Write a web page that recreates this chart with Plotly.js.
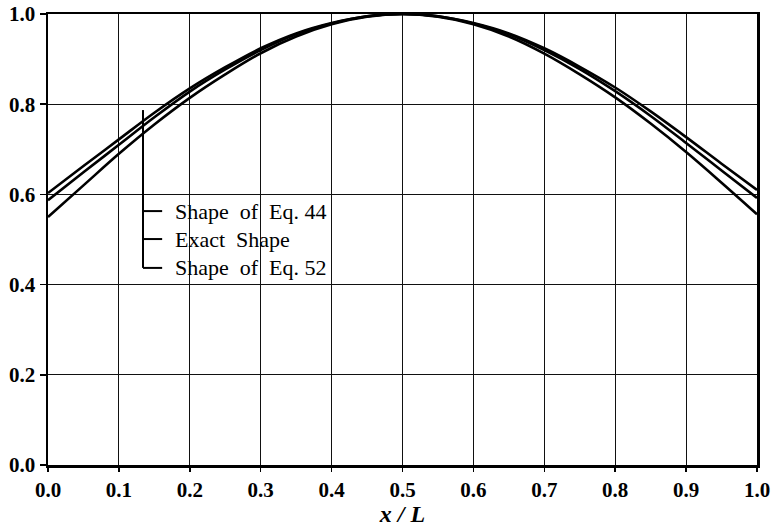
<!DOCTYPE html>
<html>
<head>
<meta charset="utf-8">
<script src="https://cdn.plot.ly/plotly-3.0.1.min.js"></script>
<style>
  html, body { margin: 0; padding: 0; background: #fff; }
  #chart { width: 772px; height: 527px; }
</style>
</head>
<body>
<div id="chart"></div>
<script>
const xPos = [0.00, 0.05, 0.10, 0.15, 0.20, 0.25, 0.30, 0.35, 0.40, 0.45, 0.50,
              0.55, 0.60, 0.65, 0.70, 0.75, 0.80, 0.85, 0.90, 0.95, 1.00];
const shapeEq44 = [0.603, 0.663, 0.722, 0.781, 0.835, 0.882, 0.924, 0.957, 0.980, 0.995, 1.000,
                   0.995, 0.980, 0.957, 0.924, 0.883, 0.837, 0.784, 0.727, 0.668, 0.610];
const exactShape = [0.587, 0.649, 0.710, 0.771, 0.828, 0.877, 0.920, 0.955, 0.979, 0.995, 1.000,
                    0.995, 0.979, 0.955, 0.920, 0.878, 0.829, 0.774, 0.714, 0.653, 0.592];
const shapeEq52 = [0.550, 0.620, 0.690, 0.755, 0.814, 0.866, 0.913, 0.950, 0.977, 0.994, 1.000,
                   0.994, 0.977, 0.950, 0.912, 0.866, 0.815, 0.757, 0.694, 0.626, 0.556];
const seriesNames = ['Shape&nbsp; of&nbsp; Eq. 44', 'Exact&nbsp; Shape', 'Shape&nbsp; of&nbsp; Eq. 52'];
const xTickVals = [0.0, 0.1, 0.2, 0.3, 0.4, 0.5, 0.6, 0.7, 0.8, 0.9, 1.0];
const yTickVals = [0.0, 0.2, 0.4, 0.6, 0.8, 1.0];

const allSeries = [shapeEq44, exactShape, shapeEq52];
const traces = allSeries.map((ys, i) => ({
  x: xPos, y: ys, type: 'scatter', mode: 'lines', name: seriesNames[i],
  line: { color: '#000', width: 2.6, shape: 'spline', smoothing: 1 },
  showlegend: false, hoverinfo: 'skip'
}));

// legend bracket (decoration)
const bx = 0.134, tickEnd = 0.161, textX = 0.176;
const legendY = [0.563, 0.501, 0.437];
const shapes = [
  { type: 'line', xref: 'x', yref: 'y', x0: bx, x1: bx, y0: 0.787, y1: legendY[2],
    line: { color: '#000', width: 2 } }
];
const annotations = [];
legendY.forEach((yy, i) => {
  shapes.push({ type: 'line', xref: 'x', yref: 'y', x0: bx, x1: tickEnd, y0: yy, y1: yy,
    line: { color: '#000', width: 2 } });
  annotations.push({ xref: 'x', yref: 'y', x: textX, y: yy, text: seriesNames[i],
    showarrow: false, xanchor: 'left', yanchor: 'middle',
    font: { family: 'Liberation Serif, Times New Roman, serif', size: 22, color: '#000' } });
});

const tickFont = { family: 'Liberation Serif, Times New Roman, serif', size: 21, color: '#000', weight: 'bold' };

const layout = {
  width: 772, height: 527,
  margin: { l: 48, r: 15, t: 14, b: 62 },
  paper_bgcolor: '#fff', plot_bgcolor: '#fff',
  showlegend: false,
  xaxis: {
    range: [0, 1], tickvals: xTickVals, tickformat: '.1f',
    showgrid: true, gridcolor: '#111', gridwidth: 1,
    showline: true, linecolor: '#000', linewidth: 2.5, mirror: true,
    ticks: 'outside', ticklen: 4, tickwidth: 1.5, tickcolor: '#000',
    tickfont: tickFont, zeroline: false,
    title: { text: '<b><i>x / L</i></b>', standoff: 2,
      font: { family: 'Liberation Serif, Times New Roman, serif', size: 24, color: '#000' } }
  },
  yaxis: {
    range: [0, 1], tickvals: yTickVals, tickformat: '.1f',
    showgrid: true, gridcolor: '#111', gridwidth: 1,
    showline: true, linecolor: '#000', linewidth: 2.5, mirror: true,
    ticks: 'outside', ticklen: 6, tickwidth: 1.5, tickcolor: '#000',
    tickfont: tickFont, zeroline: false
  },
  shapes: shapes,
  annotations: annotations
};

Plotly.newPlot('chart', traces, layout, { displayModeBar: false, staticPlot: true });
</script>
</body>
</html>
